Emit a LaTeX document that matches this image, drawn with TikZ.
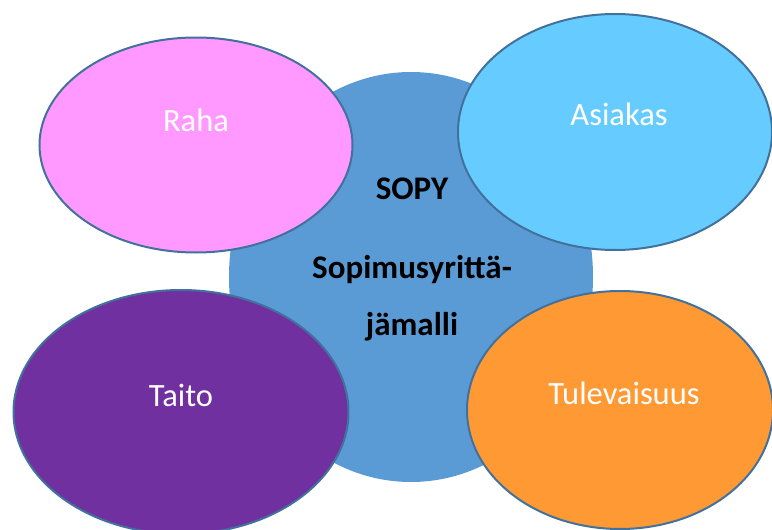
\documentclass[tikz,border=0pt]{standalone}
\usepackage{fontspec}
\setmainfont{Carlito}
\usetikzlibrary{shapes.geometric}
\definecolor{centerblue}{HTML}{5B9BD5}
\definecolor{rahapink}{HTML}{FF99FF}
\definecolor{asiakasblue}{HTML}{66CCFF}
\definecolor{taitopurple}{HTML}{7030A0}
\definecolor{tuleorange}{HTML}{FF9933}
\definecolor{rimblue}{HTML}{41719C}
\tikzset{
  bubble/.style={ellipse, draw=rimblue, line width=2pt, inner sep=0pt},
  bubbletext/.style={text=white, font=\fontsize{32.5}{38}\selectfont, inner sep=0pt},
  centertext/.style={text=black, font=\fontsize{33}{38}\selectfont\bfseries, inner sep=0pt}
}
\begin{document}
\begin{tikzpicture}[x=1pt,y=-1pt]
\useasboundingbox (0,0) rectangle (772,530);
\node[ellipse, fill=centerblue, minimum width=364pt, minimum height=410pt, inner sep=0pt] (core) at (411,277) {};
\node[bubble, fill=rahapink, minimum width=313pt, minimum height=215pt] (raha) at (196,145) {};
\node[bubble, fill=asiakasblue, minimum width=314pt, minimum height=236pt] (asiakas) at (615,132) {};
\node[bubble, fill=taitopurple, minimum width=335pt, minimum height=244pt] (taito) at (181,412) {};
\node[bubble, fill=tuleorange, minimum width=306pt, minimum height=238pt] (tule) at (620,410) {};
\node[bubbletext] (rahat) at (196,120) {Raha};
\node[bubbletext] (asiakast) at (619,114) {Asiakas};
\node[bubbletext] (taitot) at (181,395) {Taito};
\node[bubbletext] (tulet) at (624,393) {Tulevaisuus};
\node[centertext] (sopy) at (412,189) {SOPY};
\node[centertext] (sopim) at (412,270) {Sopimusyrittä-};
\node[centertext] (jama) at (412,327) {jämalli};
\end{tikzpicture}
\end{document}
